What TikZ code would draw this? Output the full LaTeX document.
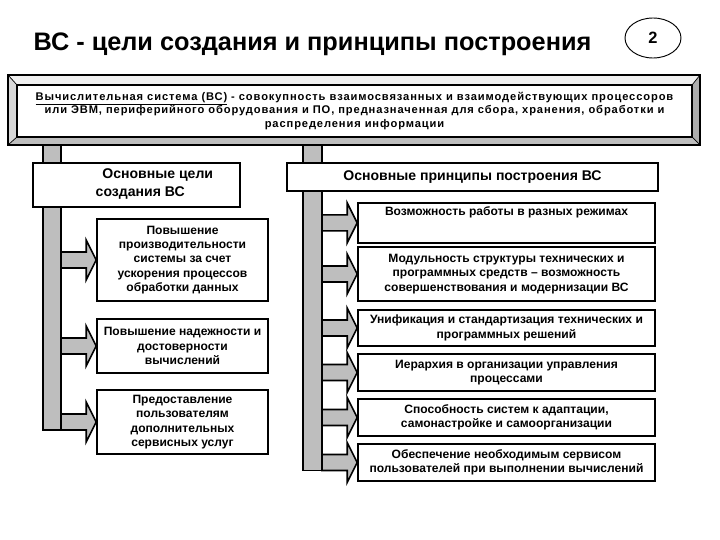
\documentclass[tikz,border=0pt]{standalone}
\usepackage{fontspec}
\setmainfont{Liberation Sans}
\newfontfamily\razrjadka[LetterSpace=8]{Liberation Sans}
\usetikzlibrary{calc,shapes.geometric}
\definecolor{vsSeryj}{HTML}{BEBEBE}
\definecolor{vsSvetlyj}{HTML}{F0F0F0}
\definecolor{vsTemnyj}{HTML}{ADADAD}

% block arrow from a bar to the west side of a box
\newcommand{\strelka}[2]{%
  \filldraw[strelkaFon] ($(#1 |- #2.west)+(0,-8)$) -- ($(#2.west)+(-10,-8)$)
    -- ($(#2.west)+(-10,-20)$) -- (#2.west) -- ($(#2.west)+(-10,20)$)
    -- ($(#2.west)+(-10,8)$) -- ($(#1 |- #2.west)+(0,8)$) -- cycle;}

\begin{document}
\begin{tikzpicture}[x=0.03cm, y=-0.03cm, line width=1.4pt,
    kletka/.style={draw, fill=white, align=center, inner sep=1pt,
      font=\bfseries\fontsize{10.3}{12.3}\selectfont},
    shapka/.style={draw, fill=white, align=center, inner sep=1pt,
      font=\bfseries\fontsize{12}{15.3}\selectfont},
    strelkaFon/.style={fill=vsSeryj, draw=black, line width=1.4pt, line join=miter},
    shina/.style={fill=vsSeryj, draw=black, line width=1.4pt}]
  \useasboundingbox (0,0) rectangle (720,540);

  % title
  \node[anchor=west, font=\bfseries\fontsize{21.6}{26}\selectfont] (zagolovok) at (29,44)
    {ВС - цели создания и принципы построения};
  \node[draw, ellipse, line width=0.8pt, minimum width=56*0.03cm, minimum height=40*0.03cm,
    font=\bfseries\fontsize{14}{16}\selectfont] (nomer) at (653,38) {2};

  % bars
  \draw[shina] (43,145) rectangle (61,430);
  \draw[shina] (303,145) rectangle (322,470.5);
  \coordinate (shinaL) at (61,0);
  \coordinate (shinaP) at (322,0);

  % beveled frame
  \fill[vsSvetlyj] (8,75) -- (700,75) -- (692,85) -- (17,85) -- cycle;
  \fill[vsSvetlyj!90!black] (8,75) -- (17,85) -- (17,137) -- (8,145) -- cycle;
  \fill[vsTemnyj] (700,75) -- (700,145) -- (692,137) -- (692,85) -- cycle;
  \fill[vsSeryj] (8,145) -- (700,145) -- (692,137) -- (17,137) -- cycle;
  \draw (8,75) rectangle (700,145);
  \draw[line width=0.6pt] (8,75) -- (17,85) (700,75) -- (692,85)
    (8,145) -- (17,137) (700,145) -- (692,137);
  \node[draw, fill=white, minimum width=675*0.03cm, minimum height=52*0.03cm, align=center,
    font=\razrjadka\bfseries\fontsize{9.5}{11.5}\selectfont] (opred) at (354.5,111)
    {\underline{Вычислительная система (ВС)} - совокупность взаимосвязанных и взаимодействующих процессоров\\
     или ЭВМ, периферийного оборудования и ПО, предназначенная для сбора, хранения, обработки и\\
     распределения информации};

  % headers
  \node[shapka, minimum width=207*0.03cm, minimum height=44*0.03cm] (celi) at (136.5,185) {};
  \node[font=\bfseries\fontsize{12}{15.3}\selectfont, align=left, anchor=west] (celiTekst)
    at (91,184) {\hspace*{0.2cm}Основные цели\\создания ВС};
  \node[shapka, minimum width=371*0.03cm, minimum height=28*0.03cm] (principy) at (472.5,177)
    {Основные принципы построения ВС};

  % goals
  \node[kletka, minimum width=171*0.03cm, minimum height=82*0.03cm] (c1) at (182.5,260)
    {Повышение\\производительности\\системы за счет\\ускорения процессов\\обработки данных};
  \node[kletka, minimum width=171*0.03cm, minimum height=54*0.03cm] (c2) at (182.5,346)
    {Повышение надежности и\\достоверности\\вычислений};
  \node[kletka, minimum width=171*0.03cm, minimum height=64*0.03cm] (c3) at (182.5,422)
    {Предоставление\\пользователям\\дополнительных\\сервисных услуг};

  % principles
  \node[kletka, minimum width=297*0.03cm, minimum height=36*0.03cm, anchor=north] (p1) at (506.5,202)
    {\rule{0pt}{10pt}Возможность работы в разных режимах\\[10pt]};
  \node[kletka, minimum width=297*0.03cm, minimum height=54*0.03cm] (p2) at (506.5,274)
    {Модульность структуры технических и\\программных средств -- возможность\\совершенствования и модернизации ВС};
  \node[kletka, minimum width=297*0.03cm, minimum height=36*0.03cm] (p3) at (506.5,328)
    {Унификация и стандартизация технических и\\программных решений};
  \node[kletka, minimum width=297*0.03cm, minimum height=37*0.03cm] (p4) at (506.5,372.5)
    {Иерархия в организации управления\\процессами};
  \node[kletka, minimum width=297*0.03cm, minimum height=37*0.03cm] (p5) at (506.5,417.5)
    {Способность систем к адаптации,\\самонастройке и самоорганизации};
  \node[kletka, minimum width=297*0.03cm, minimum height=37*0.03cm] (p6) at (506.5,462.5)
    {Обеспечение необходимым сервисом\\пользователей при выполнении вычислений};

  % arrows
  \foreach \k in {c1,c2,c3} {\strelka{shinaL}{\k}}
  \foreach \k in {p1,p2,p3,p4,p5,p6} {\strelka{shinaP}{\k}}
\end{tikzpicture}
\end{document}
